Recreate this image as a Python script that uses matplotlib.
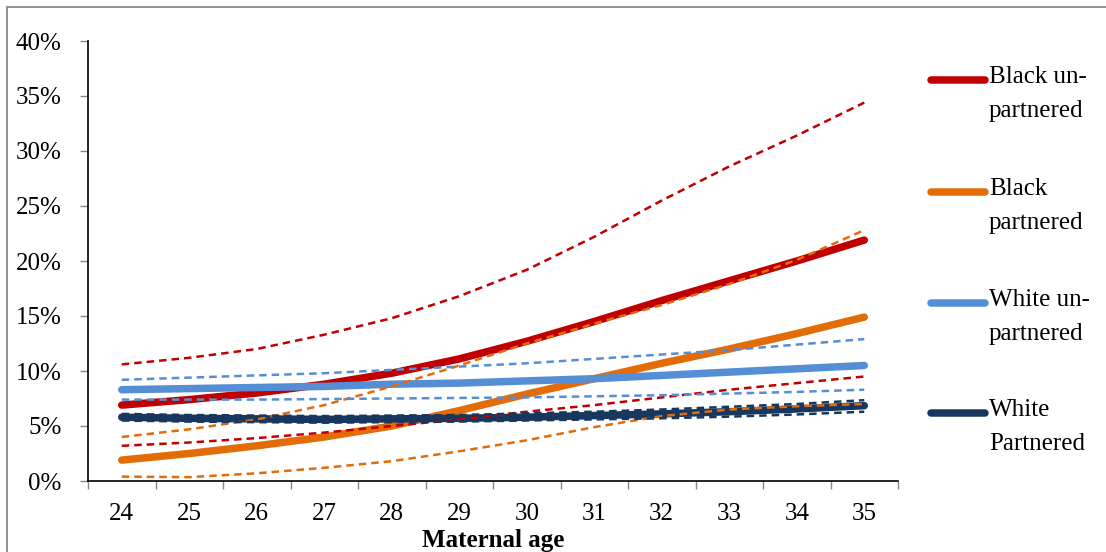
import matplotlib
matplotlib.use("Agg")
import matplotlib.pyplot as plt
from matplotlib.lines import Line2D
from matplotlib.patches import Rectangle
from matplotlib.ticker import FuncFormatter, FixedLocator

plt.rcParams['font.family'] = ['Liberation Serif', 'DejaVu Serif']

# Data (percent)
ages = [24, 25, 26, 27, 28, 29, 30, 31, 32, 33, 34, 35]

black_unp = [6.9, 7.4, 8.0, 8.8, 9.8, 11.1, 12.7, 14.5, 16.4, 18.2, 20.0, 21.9]
black_unp_hi = [10.6, 11.2, 12.0, 13.3, 14.8, 16.8, 19.2, 22.2, 25.5, 28.6, 31.4, 34.4]
black_unp_lo = [3.2, 3.5, 3.9, 4.4, 5.0, 5.6, 6.3, 6.9, 7.6, 8.3, 8.9, 9.5]

black_par = [1.9, 2.5, 3.2, 4.0, 5.0, 6.4, 7.9, 9.3, 10.7, 12.0, 13.4, 14.9]
black_par_hi = [4.0, 4.7, 5.6, 6.9, 8.6, 10.5, 12.5, 14.3, 16.0, 17.9, 20.1, 22.8]
black_par_lo = [0.4, 0.35, 0.7, 1.2, 1.8, 2.7, 3.7, 4.9, 5.9, 6.5, 6.8, 7.0]

white_unp = [8.3, 8.4, 8.5, 8.6, 8.8, 8.9, 9.1, 9.3, 9.6, 9.9, 10.2, 10.5]
white_unp_hi = [9.2, 9.4, 9.6, 9.8, 10.1, 10.4, 10.7, 11.1, 11.5, 11.9, 12.4, 12.9]
white_unp_lo = [7.4, 7.4, 7.4, 7.45, 7.5, 7.55, 7.6, 7.7, 7.8, 7.95, 8.1, 8.3]

white_par = [5.8, 5.7, 5.65, 5.6, 5.65, 5.7, 5.8, 5.95, 6.1, 6.3, 6.55, 6.85]
white_par_hi = [6.1, 6.0, 5.95, 5.9, 5.95, 6.0, 6.15, 6.3, 6.5, 6.75, 7.0, 7.35]
white_par_lo = [5.5, 5.4, 5.35, 5.3, 5.35, 5.4, 5.5, 5.6, 5.7, 5.85, 6.05, 6.3]

labels = ["Black un-\npartnered", "Black\npartnered", "White un-\npartnered", "White\nPartnered"]
colors = ["#C00000", "#E36C09", "#558ED5", "#17375E"]

fig = plt.figure(figsize=(11.06, 5.52), dpi=100)
ax = fig.add_axes([88 / 1106, 1 - 481 / 552, 810 / 1106, 440 / 552])

# chart frame (Excel chart area border)
fig.patches.append(Rectangle((7 / 1106, -0.1), 1.2, 1.1 - 7 / 552, transform=fig.transFigure,
                             fill=False, edgecolor="#7f7f7f", linewidth=1.2))

mains = [black_unp, black_par, white_unp, white_par]
cis = [(black_unp_hi, black_unp_lo), (black_par_hi, black_par_lo),
       (white_unp_hi, white_unp_lo), (white_par_hi, white_par_lo)]

for vals, c in zip(mains, colors):
    ax.plot(ages, [v / 100 for v in vals], color=c, lw=5.4, solid_capstyle='round', zorder=2)

for (hi, lo), c in zip(cis, colors):
    for arr in (hi, lo):
        ax.plot(ages, [v / 100 for v in arr], color=c, lw=1.8, dashes=(3, 2), zorder=3)

ax.set_xlim(23.5, 35.5)
ax.set_ylim(0, 0.40)
ax.set_yticks([i * 0.05 for i in range(9)])
ax.yaxis.set_major_formatter(FuncFormatter(lambda v, p: f"{v * 100:.0f}%"))

ax.xaxis.set_major_locator(FixedLocator([a - 0.5 for a in ages] + [ages[-1] + 0.5]))
ax.xaxis.set_minor_locator(FixedLocator(ages))
ax.xaxis.set_major_formatter(plt.NullFormatter())
ax.xaxis.set_minor_formatter(FuncFormatter(lambda v, p: f"{v:.0f}"))

ax.tick_params(axis='x', which='major', length=6, width=1, color="#888888", direction='out')
ax.tick_params(axis='x', which='minor', length=0, pad=16, labelsize=18)
ax.tick_params(axis='y', length=6, width=1, color="#888888", direction='out', pad=13, labelsize=18)

for s in ['top', 'right']:
    ax.spines[s].set_visible(False)
ax.spines['left'].set_linewidth(1.2)
ax.spines['bottom'].set_linewidth(1.2)

ax.set_xlabel("Maternal age", fontsize=18, fontweight='bold', labelpad=3)

# legend drawn at the right, handle aligned with first text line
leg_y = [80, 192, 303, 413]
for lab, c, y in zip(labels, colors, leg_y):
    yf = 1 - y / 552
    fig.add_artist(Line2D([931 / 1106, 985 / 1106], [yf, yf], color=c, lw=5.4,
                          solid_capstyle='round', transform=fig.transFigure))
    fig.text(989 / 1106, 1 - (y - 14) / 552, lab, fontsize=18, va='top', ha='left',
             linespacing=1.7)

fig.savefig("out.png", dpi=100)
